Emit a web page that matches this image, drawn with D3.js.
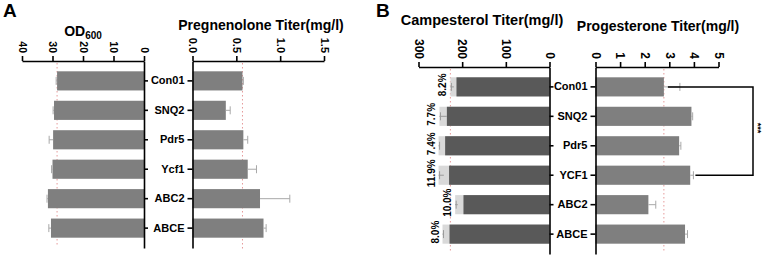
<!DOCTYPE html>
<html>
<head>
<meta charset="utf-8">
<script src="https://cdn.jsdelivr.net/npm/d3@7"></script>
<style>
  body { margin: 0; background: #fff; }
  svg { font-family: "Liberation Sans", Arial, sans-serif; font-weight: bold; }
  .axis path, .axis line { stroke: #000; stroke-width: 1.6; }
  .axis text { fill: #000; font-weight: bold; }
</style>
</head>
<body>
<div id="chart"></div>
<script>
// categories
const catsA = ["Con01", "SNQ2", "Pdr5", "Ycf1", "ABC2", "ABCE"];
const catsB = ["Con01", "SNQ2", "Pdr5", "YCF1", "ABC2", "ABCE"];

// panel A data
const od600 = [28.5, 29.5, 29.8, 30.0, 31.5, 30.5];
const od600Err = [0.3, 0.3, 1.3, 0.3, 0.3, 0.7];
const pregnenolone = [0.57, 0.38, 0.58, 0.63, 0.77, 0.81];
const pregnenoloneErr = [0.01, 0.05, 0.05, 0.1, 0.34, 0.03];

// panel B data
const campesterolDark = [213, 235, 239, 230, 197, 229];
const campesterolTotal = [227, 252, 254, 254, 216, 245];
const campesterolErr = [8, 17, 3, 12, 6, 3];
const campesterolPct = ["8.2%", "7.7%", "7.4%", "11.9%", "10.0%", "8.0%"];
const progesterone = [2.78, 3.9, 3.4, 3.85, 2.15, 3.64];
const progesteroneErr = [0.65, 0.05, 0.07, 0.13, 0.3, 0.1];

// tick values
const odTicks = [0, 10, 20, 30, 40];
const pregTicks = [0, 0.5, 1.0, 1.5];
const campTicks = [0, 100, 200, 300];
const progTicks = [0, 1, 2, 3, 4, 5];

const svg = d3.select("#chart").append("svg")
    .attr("width", 764)
    .attr("height", 257);

const refColor = "#e69a9a";
const errColor = "#a8a8a8";

// scales
const xOD = d3.scaleLinear().domain([0, 40]).range([144, 22]);
const xPreg = d3.scaleLinear().domain([0, 1.5]).range([192.5, 324]);
const xCamp = d3.scaleLinear().domain([0, 300]).range([549.5, 418.5]);
const xProg = d3.scaleLinear().domain([0, 5]).range([595.5, 718.5]);

const yA = d3.scaleBand().domain(catsA).range([61, 248]).padding(0.35);
const yB = d3.scaleBand().domain(catsB).range([67, 254]).padding(0.35);

// top axis with rotated tick labels
function topAxis(scale, ticks, fmt, y, fontSize) {
    const g = svg.append("g")
        .attr("class", "axis")
        .attr("transform", `translate(0,${y})`)
        .call(d3.axisTop(scale).tickValues(ticks).tickFormat(fmt).tickSize(5).tickSizeOuter(0));
    g.selectAll("text")
        .attr("transform", "rotate(90)")
        .attr("x", -8)
        .attr("y", 0)
        .attr("dy", "0.35em")
        .style("text-anchor", "end")
        .style("font-size", fontSize + "px");
    return g;
}

function refLine(scale, value, y0, y1) {
    svg.append("line")
        .attr("x1", scale(value)).attr("x2", scale(value))
        .attr("y1", y0).attr("y2", y1)
        .attr("stroke", refColor)
        .attr("stroke-width", 1)
        .attr("stroke-dasharray", "1.5,2.5");
}

function bars(scale, yScale, cats, values, color) {
    svg.append("g").selectAll("rect")
        .data(values)
        .enter().append("rect")
        .attr("x", d => Math.min(scale(0), scale(d)))
        .attr("y", (d, i) => yScale(cats[i]))
        .attr("width", d => Math.abs(scale(d) - scale(0)))
        .attr("height", yScale.bandwidth())
        .attr("fill", color);
}

function errBars(scale, yScale, cats, values, errs) {
    const g = svg.append("g").attr("stroke", errColor).attr("stroke-width", 1);
    values.forEach((v, i) => {
        const cy = yScale(cats[i]) + yScale.bandwidth() / 2;
        const xe = scale(v + errs[i]);
        g.append("line").attr("x1", scale(v)).attr("x2", xe).attr("y1", cy).attr("y2", cy);
        g.append("line").attr("x1", xe).attr("x2", xe).attr("y1", cy - 4).attr("y2", cy + 4);
    });
}

// ---------- Panel A ----------
svg.append("text").attr("x", 3).attr("y", 17).style("font-size", "19px").text("A");

const odTitle = svg.append("text").attr("x", 83).attr("y", 36)
    .style("text-anchor", "middle").style("font-size", "14px");
odTitle.append("tspan").text("OD");
odTitle.append("tspan").attr("dy", 3).style("font-size", "10px").text("600");

svg.append("text").attr("x", 261).attr("y", 30)
    .style("text-anchor", "middle").style("font-size", "14px")
    .text("Pregnenolone Titer(mg/l)");

refLine(xOD, od600[0], 63, 247);
refLine(xPreg, pregnenolone[0], 63, 250);

bars(xOD, yA, catsA, od600, "#7f7f7f");
errBars(xOD, yA, catsA, od600, od600Err);
bars(xPreg, yA, catsA, pregnenolone, "#7f7f7f");
errBars(xPreg, yA, catsA, pregnenolone, pregnenoloneErr);

topAxis(xOD, odTicks, d3.format("d"), 61, 10.5);
topAxis(xPreg, pregTicks, d3.format(".1f"), 61, 11);

svg.append("g").attr("class", "axis")
    .attr("transform", `translate(${xOD(0)},0)`)
    .call(d3.axisRight(yA).tickSize(4).tickSizeOuter(0).tickFormat(""));
svg.append("g").attr("class", "axis")
    .attr("transform", `translate(${xPreg(0)},0)`)
    .call(d3.axisLeft(yA).tickSize(5).tickSizeOuter(0))
    .selectAll("text").style("font-size", "11px");

// ---------- Panel B ----------
svg.append("text").attr("x", 376).attr("y", 17).style("font-size", "19px").text("B");

svg.append("text").attr("x", 482).attr("y", 25)
    .style("text-anchor", "middle").style("font-size", "14.5px")
    .text("Campesterol Titer(mg/l)");
svg.append("text").attr("x", 658).attr("y", 31)
    .style("text-anchor", "middle").style("font-size", "14px")
    .text("Progesterone Titer(mg/l)");

refLine(xCamp, campesterolTotal[0], 69, 253);
refLine(xProg, progesterone[0], 69, 253);

bars(xCamp, yB, catsB, campesterolTotal, "#d9d9d9");
bars(xCamp, yB, catsB, campesterolDark, "#595959");

// campesterol error bars: cap at total, line inward
const campErr = svg.append("g").attr("stroke", "#9a9a9a").attr("stroke-width", 1);
campesterolTotal.forEach((v, i) => {
    const cy = yB(catsB[i]) + yB.bandwidth() / 2;
    const xs = xCamp(v);
    campErr.append("line").attr("x1", xs).attr("x2", xCamp(v - campesterolErr[i])).attr("y1", cy).attr("y2", cy);
    campErr.append("line").attr("x1", xs + 1).attr("x2", xs + 1).attr("y1", cy - 4).attr("y2", cy + 4);
});

// percentage labels
svg.append("g").selectAll("text")
    .data(campesterolPct)
    .enter().append("text")
    .attr("transform", (d, i) => {
        const cx = xCamp(campesterolTotal[i]) - 4;
        const cy = yB(catsB[i]) + yB.bandwidth() / 2 - 2;
        return `translate(${cx},${cy}) rotate(-90)`;
    })
    .style("text-anchor", "middle")
    .style("font-size", "10px")
    .text(d => d);

bars(xProg, yB, catsB, progesterone, "#7f7f7f");
errBars(xProg, yB, catsB, progesterone, progesteroneErr);

topAxis(xCamp, campTicks, d3.format("d"), 67, 12);
topAxis(xProg, progTicks, d3.format("d"), 67, 12);

svg.append("g").attr("class", "axis")
    .attr("transform", `translate(${xCamp(0)},0)`)
    .call(d3.axisRight(yB).tickSize(4).tickSizeOuter(0).tickFormat(""));
svg.append("g").attr("class", "axis")
    .attr("transform", `translate(${xProg(0)},0)`)
    .call(d3.axisLeft(yB).tickSize(5).tickSizeOuter(0))
    .selectAll("text").style("font-size", "11px");

// significance bracket Con01 vs YCF1
const bx = 753;
const y0 = yB(catsB[0]) + yB.bandwidth() / 2;
const y3 = yB(catsB[3]) + yB.bandwidth() / 2;
svg.append("path")
    .attr("d", `M${xProg(progesterone[0]) + 4},${y0}H${bx}V${y3}H${xProg(progesterone[3] + progesteroneErr[3]) + 2}`)
    .attr("fill", "none")
    .attr("stroke", "#000")
    .attr("stroke-width", 1.5);
svg.append("text")
    .attr("transform", `translate(${bx + 2},${(y0 + y3) / 2 - 3}) rotate(90)`)
    .style("text-anchor", "middle")
    .style("font-size", "9px")
    .text("***");
</script>
</body>
</html>
